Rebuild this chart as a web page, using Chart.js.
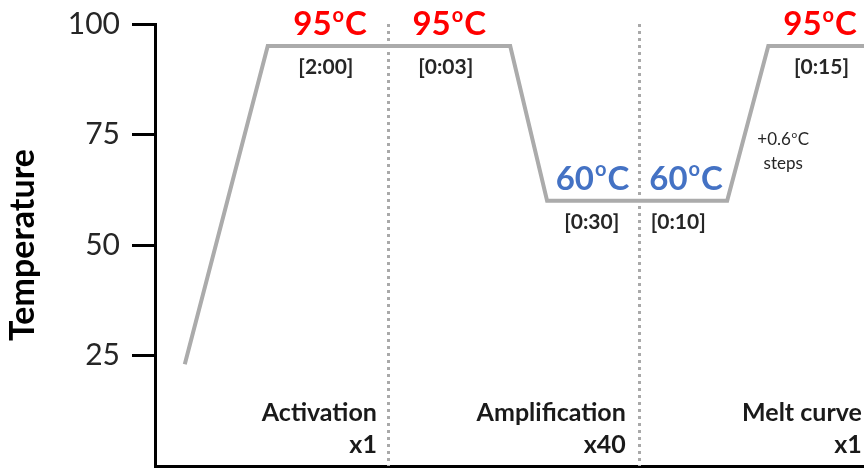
<!DOCTYPE html>
<html>
<head>
<meta charset="utf-8">
<script src="https://cdn.jsdelivr.net/npm/chart.js@4.4.1/dist/chart.umd.min.js"></script>
<style>
  html, body { margin: 0; padding: 0; background: #fff; }
  #wrap { width: 864px; height: 468px; }
</style>
</head>
<body>
<div id="wrap"><canvas id="c" width="864" height="468"></canvas></div>
<script>
// qPCR thermal profile: time axis in arbitrary units, temperature in °C
const profileX = [4.2, 15.9, 50.1, 55.3, 80.7, 86.5, 100];
const profileTemp = [23, 95, 95, 60, 60, 95, 95];

// Hold steps: temperature, hold time and where their labels sit along the time axis
const holdTemp = [95, 95, 60, 60, 95];
const holdTime = ['[2:00]', '[0:03]', '[0:30]', '[0:10]', '[0:15]'];
const holdTempX = [24.7, 41.5, 61.7, 74.9, 93.8];
const holdTimeX = [24.1, 41.0, 61.6, 73.8, 94.0];

// Program stages
const stageNames = ['Activation', 'Amplification', 'Melt curve'];
const stageCycles = ['x1', 'x40', 'x1'];
const stageEndX = [31.3, 66.4, 99.7];
const stageDividerX = [32.9, 68.3];

// Melt ramp note
const rampStep = '+0.6';
const rampWord = 'steps';
const rampNoteX = 88.6;
const rampNoteTemp = 71;

const yTicks = [25, 50, 75, 100];

const FONT = 'Lato';

// Draws "<value>°C" with a raised small "o" as the degree sign
function drawDegreeLabel(ctx, value, cx, baseline, size, weight, color) {
  const supSize = Math.round(size * 0.6);
  const big = `${weight} ${size}px ${FONT}`;
  const small = `${weight} ${supSize}px ${FONT}`;
  ctx.font = big;
  const wNum = ctx.measureText(String(value)).width;
  const wC = ctx.measureText('C').width;
  ctx.font = small;
  const wO = ctx.measureText('o').width;
  const gap = size * 0.03;
  const total = wNum + gap + wO + gap + wC;
  const x0 = cx - total / 2;
  ctx.fillStyle = color;
  ctx.textAlign = 'left';
  ctx.textBaseline = 'alphabetic';
  ctx.font = big;
  ctx.fillText(String(value), x0, baseline);
  ctx.font = small;
  ctx.fillText('o', x0 + wNum + gap, baseline - size * 0.7165 + supSize * 0.5065);
  ctx.font = big;
  ctx.fillText('C', x0 + wNum + gap + wO + gap, baseline);
}

const annotate = {
  id: 'annotate',
  beforeDatasetsDraw(chart) {
    const { ctx, chartArea, scales: { x } } = chart;
    ctx.save();
    ctx.strokeStyle = '#A9A9A9';
    ctx.lineWidth = 3;
    ctx.setLineDash([3, 4]);
    stageDividerX.forEach(v => {
      const px = Math.round(x.getPixelForValue(v)) + 0.5;
      ctx.beginPath();
      ctx.moveTo(px, chartArea.top);
      ctx.lineTo(px, chartArea.bottom);
      ctx.stroke();
    });
    ctx.restore();
  },
  afterDatasetsDraw(chart) {
    const { ctx, chartArea, scales: { x, y } } = chart;
    ctx.save();

    holdTemp.forEach((t, i) => {
      const py = y.getPixelForValue(t);
      const color = t >= 90 ? '#FF0000' : '#4472C4';
      drawDegreeLabel(ctx, t, x.getPixelForValue(holdTempX[i]), py - 11, 33, 'bold', color);

      ctx.font = `bold 21px ${FONT}`;
      ctx.fillStyle = '#262626';
      ctx.textAlign = 'center';
      ctx.textBaseline = 'alphabetic';
      ctx.fillText(holdTime[i], x.getPixelForValue(holdTimeX[i]), py + 28);
    });

    // Melt ramp increment note
    const nx = x.getPixelForValue(rampNoteX);
    const ny = y.getPixelForValue(rampNoteTemp);
    drawDegreeLabel(ctx, rampStep, nx, ny - 7, 17, 'normal', '#262626');
    ctx.font = `normal 17px ${FONT}`;
    ctx.fillStyle = '#262626';
    ctx.textAlign = 'center';
    ctx.fillText(rampWord, nx, ny + 17);

    // Stage names and cycle counts, right-aligned in each stage
    ctx.font = `bold 25px ${FONT}`;
    ctx.fillStyle = '#1A1A1A';
    ctx.textAlign = 'right';
    ctx.textBaseline = 'alphabetic';
    stageNames.forEach((name, i) => {
      const rx = x.getPixelForValue(stageEndX[i]);
      ctx.fillText(name, rx, chartArea.bottom - 45);
      ctx.fillText(stageCycles[i], rx, chartArea.bottom - 13);
    });

    ctx.restore();
  }
};

new Chart(document.getElementById('c'), {
  type: 'line',
  data: {
    datasets: [{
      data: profileX.map((v, i) => ({ x: v, y: profileTemp[i] })),
      borderColor: '#ABABAB',
      borderWidth: 4,
      pointRadius: 0,
      tension: 0,
      fill: false
    }]
  },
  options: {
    responsive: false,
    animation: false,
    devicePixelRatio: 1,
    layout: { padding: { top: 24, right: 0, bottom: 0, left: 0 } },
    plugins: { legend: { display: false }, tooltip: { enabled: false } },
    scales: {
      x: {
        type: 'linear',
        min: 0,
        max: 100,
        ticks: { display: false },
        grid: { display: true, drawOnChartArea: false, drawTicks: false },
        border: { display: true, color: '#000', width: 3 },
        afterFit(s) { s.height = 2; }
      },
      y: {
        min: 0,
        max: 100,
        afterBuildTicks(s) { s.ticks = yTicks.map(v => ({ value: v })); },
        ticks: { font: { family: FONT, size: 30 }, color: '#262626', padding: 12 },
        grid: { drawOnChartArea: false, drawTicks: true, tickLength: 23, color: '#000', lineWidth: 3 },
        border: { display: true, color: '#000', width: 3 },
        title: {
          display: true,
          text: 'Temperature',
          font: { family: FONT, size: 34, weight: 'bold' },
          color: '#000',
          padding: { top: 3, bottom: 0 }
        },
        afterFit(s) {
          s.width = 155;
          s.paddingTop = 0;
          s.paddingBottom = 0;
        }
      }
    }
  },
  plugins: [annotate]
});
</script>
</body>
</html>
